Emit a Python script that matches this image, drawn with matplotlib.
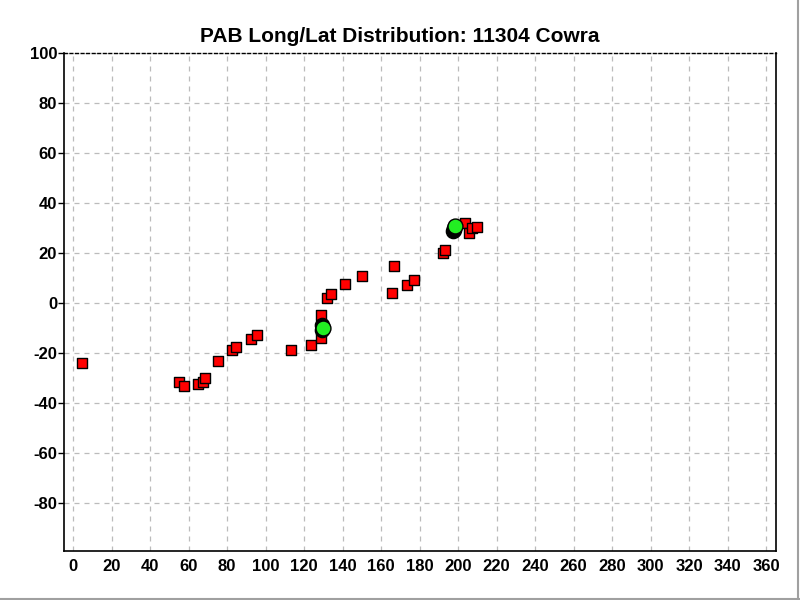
import matplotlib.pyplot as plt
from matplotlib.lines import Line2D

# Individual readings (red squares)
pts_long = [4.7, 55.0, 57.7, 65.0, 67.6, 68.7, 75.0, 82.7, 84.8, 92.6, 95.7,
            113.4, 123.3, 128.5, 129.0, 132.0, 133.7, 141.0, 149.8, 165.5,
            166.5, 173.3, 177.0, 192.0, 193.0, 203.4, 205.5, 207.0, 209.7]
pts_lat = [-24.0, -31.7, -33.3, -32.5, -31.7, -30.0, -23.3, -18.8, -17.6, -14.4, -12.8,
           -18.8, -16.8, -14.0, -4.8, 2.0, 3.6, 7.6, 10.8, 4.0,
           14.8, 7.2, 9.2, 20.0, 21.2, 32.0, 28.0, 30.0, 30.5]

# Cluster centres (black circles) and means (green circles)
centre_long = [129.5, 129.5, 197.4, 197.7, 198.0]
centre_lat = [-9.0, -11.0, 28.6, 29.2, 29.8]
mean_long = [129.7, 198.4]
mean_lat = [-10.0, 30.6]

xticks = list(range(0, 361, 20))
yticks = list(range(-80, 101, 20))

plt.rcParams['font.family'] = ['Liberation Sans', 'DejaVu Sans']

fig = plt.figure(figsize=(8, 6), dpi=100)
ax = fig.add_axes([0.080, 0.0817, 0.890, 0.8300])

ax.scatter(pts_long, pts_lat, marker='s', s=52, color='#FF0000',
           edgecolor='black', linewidth=1.0, zorder=3)
ax.scatter(centre_long, centre_lat, marker='o', s=105, color='black',
           edgecolor='black', linewidth=1.0, zorder=4)
ax.scatter(mean_long, mean_lat, marker='o', s=115, color='#22EE22',
           edgecolor='black', linewidth=1.0, zorder=5)

ax.set_xlim(-4.8, 365.2)
ax.set_ylim(-99.2, 100)
ax.set_xticks(xticks)
ax.set_yticks(yticks)
ax.set_xticklabels([str(v) for v in xticks], fontsize=12, fontweight='bold')
ax.set_yticklabels([str(v) for v in yticks], fontsize=12, fontweight='bold')
ax.tick_params(axis='x', length=0, pad=6)
ax.tick_params(axis='y', direction='out', length=4, width=1, pad=1)

ax.grid(True, color='#BBBBBB', linestyle=(0, (4, 4)), linewidth=0.9)
ax.set_axisbelow(True)
for side in ['left', 'right', 'bottom']:
    ax.spines[side].set_linewidth(1.2)
ax.spines['top'].set_linestyle((0, (2, 2)))
ax.spines['top'].set_linewidth(1.0)

# title centred on the whole figure, not on the axes
fig.text(0.5, 1 - 37 / 600, 'PAB Long/Lat Distribution: 11304 Cowra',
         fontsize=15, fontweight='bold', ha='center', va='center')

# window frame lines on the right and bottom edge
fig.add_artist(Line2D([0.9975, 0.9975], [0, 1], transform=fig.transFigure,
                      color='#A0A0A0', linewidth=1.5))
fig.add_artist(Line2D([0, 1], [0.0025, 0.0025], transform=fig.transFigure,
                      color='#A0A0A0', linewidth=1.5))

fig.savefig('out.png', dpi=100, facecolor='white')
